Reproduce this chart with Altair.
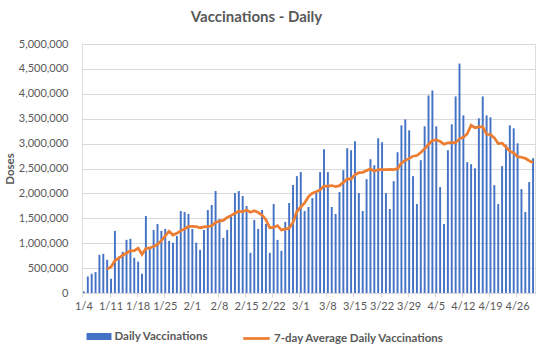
import altair as alt
import pandas as pd

# Daily doses, 1/4 .. 4/30
daily = [30000, 333000, 387000, 420000, 767000, 787000, 667000,
         287000, 1247000, 730000, 827000, 1067000, 1087000, 707000,
         630000, 387000, 1547000, 900000, 1267000, 1387000, 1247000,
         1287000, 1047000, 1007000, 1147000, 1647000, 1627000, 1590000,
         1287000, 1010000, 867000, 1267000, 1667000, 1767000, 2047000,
         1487000, 1107000, 1267000, 1533000, 2007000, 2047000, 1947000,
         1747000, 807000, 1467000, 1287000, 1667000, 1387000, 807000,
         1787000, 1067000, 847000, 1427000, 1807000, 2167000, 2347000,
         2427000, 1647000, 1727000, 1907000, 2007000, 2427000, 2887000,
         2427000, 1727000, 1587000, 2027000, 2467000, 2907000, 2867000,
         3047000, 2007000, 1647000, 2287000, 2687000, 2567000, 3107000,
         3027000, 2007000, 1687000, 2247000, 2827000, 3367000, 3487000,
         3267000, 2347000, 1787000, 2667000, 3347000, 3967000, 4067000,
         3347000, 2127000, 1387000, 2867000, 3387000, 3947000, 4607000,
         3567000, 2627000, 2587000, 2507000, 3507000, 3947000, 3567000,
         3527000, 2167000, 1787000, 2547000, 2977000, 3367000, 3307000,
         3007000, 2087000, 1627000, 2227000, 2707000]

# 7-day average line, 1/10 .. 4/30
avg7 = [484000,
        521000, 652000, 701000, 759000, 802000, 845000, 850000,
        899000, 776000, 893000, 904000, 932000, 975000, 1052000,
        1146000, 1240000, 1163000, 1198000, 1253000, 1287000, 1336000,
        1336000, 1331000, 1311000, 1328000, 1331000, 1351000, 1416000,
        1445000, 1458000, 1516000, 1554000, 1602000, 1642000, 1628000,
        1665000, 1622000, 1651000, 1616000, 1567000, 1473000, 1310000,
        1316000, 1353000, 1264000, 1284000, 1304000, 1416000, 1636000,
        1727000, 1810000, 1936000, 2004000, 2033000, 2070000, 2147000,
        2147000, 2158000, 2138000, 2156000, 2221000, 2290000, 2287000,
        2376000, 2416000, 2424000, 2461000, 2493000, 2444000, 2478000,
        2476000, 2476000, 2481000, 2476000, 2496000, 2610000, 2664000,
        2698000, 2747000, 2761000, 2821000, 2896000, 2981000, 3064000,
        3076000, 3044000, 2987000, 3016000, 3021000, 3018000, 3096000,
        3127000, 3198000, 3370000, 3318000, 3336000, 3336000, 3187000,
        3181000, 3116000, 3001000, 3007000, 2931000, 2848000, 2811000,
        2737000, 2726000, 2703000, 2657000, 2618000]

dates = pd.date_range("2021-01-04", periods=len(daily), freq="D")
day_labels = [f"{d.month}/{d.day}" for d in dates]
tick_labels = day_labels[::7]
y_ticks = [0, 500000, 1000000, 1500000, 2000000, 2500000, 3000000,
           3500000, 4000000, 4500000, 5000000]

avg_col = [None] * (len(daily) - len(avg7)) + avg7

df = pd.DataFrame({
    "day": day_labels,
    "daily": daily,
    "avg": avg_col,
    "s1": ["Daily Vaccinations"] * len(daily),
    "s2": ["7-day Average Daily Vaccinations"] * len(daily),
})

FONT = "Lato"
GREY = "#595959"
GRID = "#D9D9D9"

x_enc = alt.X(
    "day:N", sort=day_labels,
    scale=alt.Scale(paddingInner=0.5, paddingOuter=0.25),
    axis=alt.Axis(values=tick_labels, labelAngle=0, bandPosition=0,
                  tickSize=4, labelPadding=3, domainColor=GRID,
                  tickColor=GRID, grid=False, title=None,
                  labelFont=FONT, labelFontSize=11, labelColor=GREY),
)


def y_enc(field):
    return alt.Y(
        field,
        scale=alt.Scale(domain=[0, 5000000], nice=False),
        axis=alt.Axis(values=y_ticks, format=",.0f", domain=False,
                      ticks=False, tickSize=0, labelPadding=14,
                      gridColor=GRID, labelFont=FONT, labelFontSize=11,
                      labelColor=GREY, title="Doses", titleFont=FONT,
                      titleFontSize=11.5, titleFontWeight="bold",
                      titleColor=GREY, titlePadding=3),
    )


legend_common = dict(title=None, orient="none", padding=0, labelFont=FONT,
                     labelFontSize=11.5, labelFontWeight="bold",
                     labelColor=GREY, labelLimit=0)

bars = alt.Chart(df).mark_bar(strokeWidth=0).encode(
    x=x_enc,
    y=y_enc("daily:Q"),
    fill=alt.Fill("s1:N", scale=alt.Scale(range=["#4472C4"]),
                  legend=alt.Legend(legendX=4.5, legendY=280,
                                    symbolType="M-1,-0.28H1V0.28H-1Z",
                                    symbolSize=625, symbolStrokeWidth=0,
                                    labelOffset=3, **legend_common)),
)

line = alt.Chart(df).mark_line(strokeWidth=2.75).encode(
    x=x_enc,
    y=y_enc("avg:Q"),
    stroke=alt.Stroke("s2:N", scale=alt.Scale(range=["#ED7D31"]),
                      legend=alt.Legend(legendX=159.5, legendY=279.5,
                                        symbolType="stroke",
                                        symbolSize=700,
                                        symbolStrokeWidth=2.75,
                                        labelOffset=2.5, **legend_common)),
)

chart = alt.layer(bars, line).properties(
    width=453, height=249,
    title=alt.TitleParams("Vaccinations - Daily", fontSize=15,
                          fontWeight="bold", color=GREY, font=FONT,
                          anchor="middle", frame="group", dx=-52, offset=13),
    autosize=alt.AutoSizeParams(type="none"),
    padding={"left": 82, "top": 44, "right": 11, "bottom": 60},
).configure_view(stroke=None).configure(background="white")

chart.save("out.html", embed_options={"renderer": "svg", "actions": False})
